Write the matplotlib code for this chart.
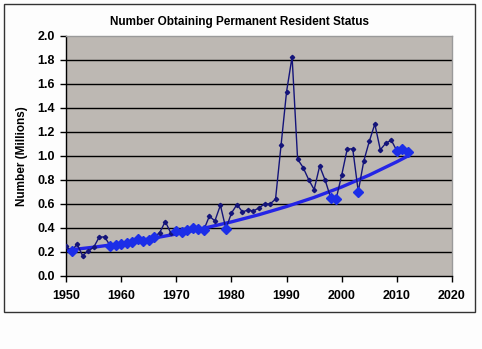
import matplotlib.pyplot as plt
from matplotlib.patches import Rectangle

# persons obtaining permanent resident status (millions)
years = list(range(1950, 2013))
residents = [0.249, 0.206, 0.266, 0.170, 0.208, 0.238, 0.322, 0.327, 0.253, 0.261,
             0.265, 0.271, 0.284, 0.306, 0.292, 0.297, 0.323, 0.362, 0.454, 0.359,
             0.373, 0.370, 0.385, 0.399, 0.394, 0.385, 0.499, 0.459, 0.590, 0.394,
             0.524, 0.595, 0.534, 0.550, 0.542, 0.568, 0.600, 0.600, 0.641, 1.090,
             1.536, 1.827, 0.974, 0.904, 0.804, 0.720, 0.916, 0.798, 0.653, 0.645,
             0.841, 1.059, 1.059, 0.704, 0.958, 1.122, 1.266, 1.052, 1.107, 1.131,
             1.043, 1.062, 1.032]

# years drawn with the big diamond markers
diamond_years = [1951, 1958, 1959, 1960, 1961, 1962, 1963, 1964, 1965, 1966,
                 1970, 1971, 1972, 1973, 1974, 1975, 1979, 1998, 1999, 2003,
                 2010, 2011, 2012]

# trendline
trend_years = [1950, 1955, 1960, 1965, 1970, 1975, 1980, 1985, 1990, 1995,
               2000, 2005, 2010, 2012]
trend_vals = [0.214, 0.240, 0.270, 0.308, 0.350, 0.398, 0.451, 0.511, 0.579,
              0.655, 0.742, 0.841, 0.952, 1.0]

x_ticks = [1950, 1960, 1970, 1980, 1990, 2000, 2010, 2020]
y_ticks = [0.0, 0.2, 0.4, 0.6, 0.8, 1.0, 1.2, 1.4, 1.6, 1.8, 2.0]

plt.rcParams['font.family'] = ['Liberation Sans', 'DejaVu Sans']

fig = plt.figure(figsize=(4.82, 3.49), dpi=100)
fig.patch.set_facecolor('#fdfdfd')
fig.patches.append(Rectangle((4 / 482, 1 - 312 / 349), 471 / 482, 308 / 349,
                             transform=fig.transFigure, fill=False,
                             edgecolor='#333333', linewidth=1.0))

ax = fig.add_axes([66 / 482, 1 - 276 / 349, 386 / 482, 240 / 349])
ax.set_facecolor('#bdb8b3')

for y in y_ticks[1:-1]:
    ax.axhline(y, color='black', linewidth=1.0, zorder=1)

ax.plot(trend_years, trend_vals, color='#2424e6', linewidth=2.4, zorder=2)

ax.plot(years, residents, color='#14147a', linewidth=1.0, marker='D',
        markersize=2.2, zorder=3)

d_vals = [residents[years.index(y)] for y in diamond_years]
ax.plot(diamond_years, d_vals, linestyle='none', marker='D', markersize=5,
        color='#1c2ee8', zorder=4)

ax.set_xlim(1950, 2020)
ax.set_ylim(0, 2.0)
ax.set_xticks(x_ticks)
ax.set_yticks(y_ticks)
ax.set_xticklabels([str(t) for t in x_ticks], fontsize=9, fontweight='bold')
ax.set_yticklabels(['%.1f' % t for t in y_ticks], fontsize=9, fontweight='bold')
ax.tick_params(direction='out', length=4, width=1, color='black', pad=4)
ax.tick_params(axis='x', pad=6)

for side in ['left', 'bottom']:
    ax.spines[side].set_color('black')
    ax.spines[side].set_linewidth(1.0)
for side in ['top', 'right']:
    ax.spines[side].set_color('#9a9a9a')
    ax.spines[side].set_linewidth(1.0)

ax.set_ylabel('Number (Millions)', fontsize=8.5, fontweight='bold', labelpad=7)
fig.text(240 / 482, 1 - 22 / 349, 'Number Obtaining Permanent Resident Status',
         ha='center', va='center', fontsize=8.5, fontweight='bold')

fig.savefig('out.png', dpi=100, facecolor=fig.get_facecolor())
